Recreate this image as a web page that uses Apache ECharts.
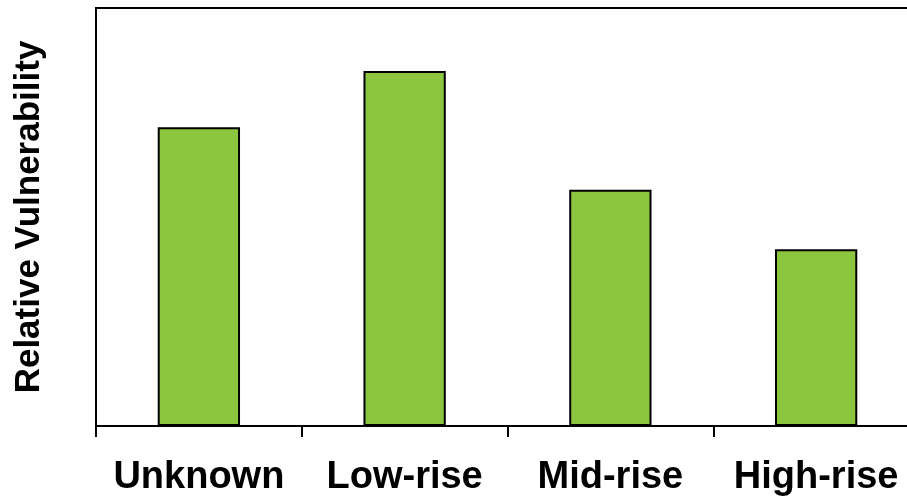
<!DOCTYPE html>
<html>
<head>
<meta charset="utf-8">
<style>
  html, body { margin: 0; padding: 0; background: #fff; }
  #chart { width: 907px; height: 496px; }
</style>
<script src="https://cdn.jsdelivr.net/npm/echarts@6/dist/echarts.min.js"></script>
</head>
<body>
<div id="chart"></div>
<script>
// Building height classes and their relative vulnerability
const categories = ['Unknown', 'Low-rise', 'Mid-rise', 'High-rise'];
const vulnerability = [0.715, 0.849, 0.565, 0.423];

const chart = echarts.init(document.getElementById('chart'), null, { renderer: 'canvas' });

chart.setOption({
  animation: false,
  backgroundColor: '#ffffff',
  grid: {
    left: 96, top: 8, width: 823, height: 418,
    containLabel: false, outerBoundsMode: 'none',
    show: true, borderColor: '#000', borderWidth: 2, backgroundColor: 'transparent'
  },
  xAxis: {
    type: 'category',
    data: categories,
    axisLine: { lineStyle: { color: '#000', width: 2 } },
    axisTick: { show: true, length: 11, lineStyle: { color: '#000', width: 2 } },
    axisLabel: {
      interval: 0, hideOverlap: false,
      color: '#000', fontSize: 38, fontWeight: 'bold',
      fontFamily: 'Liberation Sans, Arial, sans-serif', margin: 33
    }
  },
  yAxis: {
    type: 'value',
    min: 0, max: 1,
    name: 'Relative Vulnerability',
    nameLocation: 'middle',
    nameGap: 49,
    nameTextStyle: {
      color: '#000', fontSize: 35, fontWeight: 'bold',
      fontFamily: 'Liberation Sans, Arial, sans-serif'
    },
    axisLine: { show: true, lineStyle: { color: '#000', width: 2 } },
    axisTick: { show: false },
    axisLabel: { show: false },
    splitLine: { show: false }
  },
  series: [{
    type: 'bar',
    data: vulnerability,
    barWidth: '40%',
    itemStyle: { color: '#8CC63F', borderColor: '#000', borderWidth: 2 }
  }]
});
</script>
</body>
</html>
